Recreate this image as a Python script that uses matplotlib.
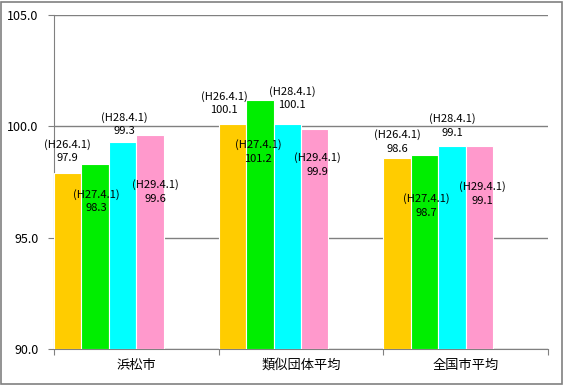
import matplotlib
matplotlib.use("Agg")
import matplotlib.pyplot as plt
from matplotlib.patches import Rectangle

plt.rcParams["font.family"] = ["Noto Sans CJK JP", "DejaVu Sans"]

CATEGORIES = ["浜松市", "類似団体平均", "全国市平均"]
SERIES = ["(H26.4.1)", "(H27.4.1)", "(H28.4.1)", "(H29.4.1)"]
VALUES = [
    [97.9, 100.1, 98.6],   # H26.4.1
    [98.3, 101.2, 98.7],   # H27.4.1
    [99.3, 100.1, 99.1],   # H28.4.1
    [99.6, 99.9, 99.1],    # H29.4.1
]
COLORS = ["#FFCC00", "#00EE00", "#00FFFF", "#FF99CC"]
Y_TICKS = [90.0, 95.0, 100.0, 105.0]

# label offsets (pixels) of each data label centre from the bar top
LABEL_OFFSETS = [
    [(0, 22), (-8, 21), (0, 16)],
    [(1, -37), (-2, -52), (2, -50)],
    [(2, 18), (5, 26), (0, 21)],
    [(5, -56), (3, -36), (3, -47)],
]

fig = plt.figure(figsize=(5.68, 3.87), dpi=100)
ax = fig.add_axes([54 / 568, 38 / 387, 494 / 568, 334 / 387])

width = 1 / 6
for k, (name, vals, col) in enumerate(zip(SERIES, VALUES, COLORS)):
    xs = [i + (k - 2.5) * width for i in range(len(CATEGORIES))]
    ax.bar(xs, [v - 90 for v in vals], bottom=90, width=width, color=col,
           edgecolor="white", linewidth=0.8, zorder=3)
    for x, v, (dx, dy) in zip(xs, vals, LABEL_OFFSETS[k]):
        ax.annotate(f"{name}\n{v:.1f}", xy=(x, v), xytext=(dx, dy),
                    textcoords="offset pixels", ha="center", va="center",
                    fontsize=8, linespacing=1.45, zorder=5)

ax.set_xlim(-0.5, 2.5)
ax.set_ylim(90, 105)
ax.set_yticks(Y_TICKS)
ax.set_yticklabels([f"{t:.1f}" for t in Y_TICKS], fontsize=9)
ax.yaxis.grid(True, color="#808080", linewidth=1.0, zorder=0)
ax.set_axisbelow(True)

ax.set_xticks([-0.5, 0.5, 1.5, 2.5])
ax.set_xticklabels([])
ax.set_xticks(range(len(CATEGORIES)), minor=True)
ax.set_xticklabels(CATEGORIES, minor=True, fontsize=9.5)
ax.tick_params(axis="x", which="minor", length=0, pad=7)
ax.tick_params(axis="x", which="major", length=4, color="#808080")
ax.tick_params(axis="y", length=4, color="#808080", pad=7)

for side in ("top", "right"):
    ax.spines[side].set_visible(False)
for side in ("left", "bottom"):
    ax.spines[side].set_color("#808080")

fig.patches.append(Rectangle((1 / 568, 3 / 387), 561 / 568, 382 / 387,
                             transform=fig.transFigure, fill=False,
                             edgecolor="#808080", linewidth=1.2))

fig.savefig("out.png", dpi=100)
